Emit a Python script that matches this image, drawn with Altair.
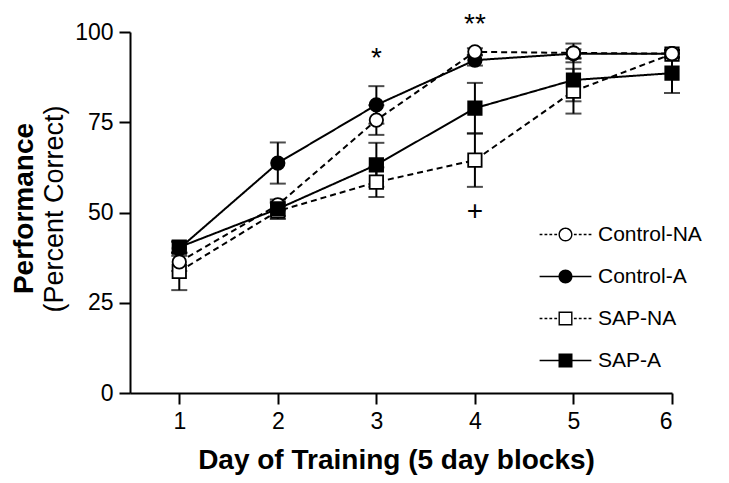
import altair as alt
import pandas as pd

# ---- data ----
days = [1, 2, 3, 4, 5, 6]
series_names = ["Control-NA", "Control-A", "SAP-NA", "SAP-A"]

control_na = [36.3, 52.1, 75.6, 94.5, 94.2, 94.0]
control_na_se = [2.5, 1.5, 4.1, 1.0, 2.6, 1.0]
control_a = [40.0, 63.7, 79.8, 92.2, 94.0, 94.0]
control_a_se = [2.0, 5.7, 5.2, 1.5, 1.2, 1.0]
sap_na = [33.7, 50.4, 58.4, 64.5, 83.6, 93.9]
sap_na_se = [5.2, 2.2, 4.1, 7.4, 6.2, 1.0]
sap_a = [40.4, 51.0, 63.2, 78.9, 86.7, 88.6]
sap_a_se = [1.5, 2.0, 6.1, 7.0, 5.9, 5.5]

# drawing order (bottom -> top)
draw_order = ["SAP-NA", "Control-A", "Control-NA", "SAP-A"]

annot_days = [3, 4, 4]
annot_values = [90.3, 99.6, 47.9]
annot_labels = ["*", "**", "+"]

y_ticks = [0, 25, 50, 75, 100]

# ---- build table ----
vals = {"Control-NA": (control_na, control_na_se),
        "Control-A": (control_a, control_a_se),
        "SAP-NA": (sap_na, sap_na_se),
        "SAP-A": (sap_a, sap_a_se)}
rows = []
for s in draw_order:
    v, e = vals[s]
    for d, vv, ee in zip(days, v, e):
        rows.append({"series": s, "day": d, "value": vv, "lo": vv - ee,
                     "hi": vv + ee, "ord": draw_order.index(s)})
df = pd.DataFrame(rows)
annot = pd.DataFrame({"day": annot_days, "value": annot_values, "label": annot_labels})

FONT = "Liberation Sans"

x_enc = alt.X("day:Q", scale=alt.Scale(domain=[0.5, 6], nice=False, zero=False),
              axis=alt.Axis(values=days, title="Day of Training (5 day blocks)",
                            titleFontSize=28, titleFontWeight="bold",
                            titleX=266, titleY=67, titleBaseline="middle",
                            titleAlign="center", labelPadding=6, format="d"))
y_enc = alt.Y("value:Q", scale=alt.Scale(domain=[0, 100], nice=False),
              axis=alt.Axis(values=y_ticks, title="Performance",
                            titleFontSize=28, titleFontWeight="bold",
                            titleAngle=270, titleX=-106, titleY=176,
                            titleBaseline="middle", titleAlign="center",
                            labelPadding=6))

base = alt.Chart(df)

dash_scale = alt.Scale(domain=series_names, range=[[6, 4], [1, 0], [6, 4], [1, 0]])
lines = base.mark_line(color="black", strokeWidth=2).encode(
    x=x_enc, y=y_enc, detail="series:N",
    strokeDash=alt.StrokeDash("series:N", scale=dash_scale, legend=None))

rules = base.mark_rule(color="black", strokeWidth=2).encode(
    x="day:Q", y="lo:Q", y2="hi:Q")
caps_lo = base.mark_tick(color="black", thickness=2, size=16, orient="horizontal").encode(
    x="day:Q", y="lo:Q")
caps_hi = base.mark_tick(color="black", thickness=2, size=16, orient="horizontal").encode(
    x="day:Q", y="hi:Q")

fill_range = ["white", "black", "white", "black"]
points = base.mark_point(filled=True, size=180, stroke="black", strokeWidth=1.8,
                         opacity=1).encode(
    x="day:Q", y="value:Q",
    shape=alt.Shape("series:N", scale=alt.Scale(domain=series_names,
                                                range=["circle", "circle", "square", "square"]),
                    legend=None),
    fill=alt.Fill("series:N", scale=alt.Scale(domain=series_names, range=fill_range),
                  legend=None),
    order=alt.Order("ord:Q"))

# legend symbols drawn as filled outlines: marker with a (dashed or solid) line through it
T = 0.11  # half thickness of legend line in symbol units


def seg(a, b):
    return f"M{a},{-T}H{b}V{T}H{a}Z"


def dashes():
    segs = [(-3.7, -3.3), (-3.0, -2.6), (-2.3, -1.9), (-1.6, -1.2),
            (1.2, 1.6), (1.9, 2.3), (2.6, 3.0), (3.3, 3.7)]
    return "".join(seg(a, b) for a, b in segs)


solid = seg(-3.7, -1) + seg(1, 3.7)
disc = "M1,0A1,1,0,1,1,-1,0A1,1,0,1,1,1,0Z"
ring = disc + "M0.8,0A0.8,0.8,0,1,0,-0.8,0A0.8,0.8,0,1,0,0.8,0Z"
box = "M-1,-1H1V1H-1Z"
frame = box + "M-0.8,-0.8V0.8H0.8V-0.8Z"
legend_paths = [dashes() + ring, solid + disc, dashes() + frame, solid + box]

leg = alt.Legend(title=None, orient="none", legendX=425, legendY=192,
                 labelFontSize=21, labelFont=FONT, labelColor="black",
                 labelOffset=22, rowPadding=20, symbolSize=196,
                 symbolStrokeWidth=0, symbolOpacity=1,
                 symbolFillColor="black",
                 padding=0, labelLimit=300)
legend_layer = base.mark_point(filled=True, color="black", size=196,
                               opacity=0).encode(
    x="day:Q", y="value:Q",
    shape=alt.Shape("series:N", scale=alt.Scale(domain=series_names, range=legend_paths),
                    legend=leg))

texts = alt.Chart(annot).mark_text(fontSize=28, font=FONT, baseline="alphabetic",
                                   align="center", color="black").encode(
    x="day:Q", y="value:Q", text="label:N")

subtitle = alt.Chart(pd.DataFrame({"t": ["(Percent Correct)"]})).mark_text(
    angle=270, fontSize=27, font=FONT, baseline="middle", align="center",
    color="black").encode(x=alt.value(-75), y=alt.value(177), text="t:N")

chart = alt.layer(lines, rules, caps_lo, caps_hi, points, legend_layer, texts, subtitle).resolve_scale(
    shape="independent", fill="independent"
).properties(
    width=542, height=361,
    autosize=alt.AutoSizeParams(type="none"),
    padding={"left": 122, "top": 24, "right": 49, "bottom": 82},
    background="white",
).configure_axis(
    domainColor="black", domainWidth=2, tickColor="black", tickWidth=2, tickSize=11,
    labelFontSize=23, labelFont=FONT, labelColor="black", titleFont=FONT,
    titleColor="black", grid=False,
).configure_view(stroke=None)

chart.save("out.html", embed_options={"renderer": "svg", "actions": False})
